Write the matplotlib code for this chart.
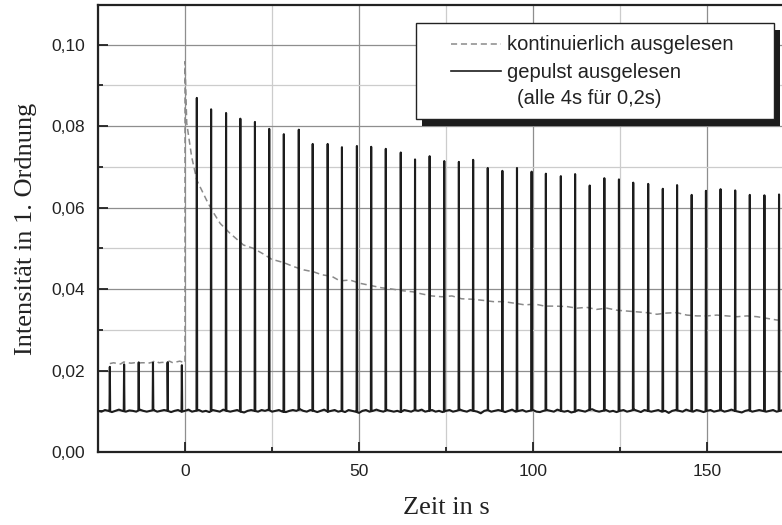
import numpy as np
import matplotlib
matplotlib.use("Agg")
import matplotlib.pyplot as plt
from matplotlib.patches import Rectangle
from matplotlib.lines import Line2D
from matplotlib.ticker import MultipleLocator, FuncFormatter

# --- continuous readout (dashed) -------------------------------------------
cont_t = [-21.6, -20.5, -19.5, -18.5, -17.6, -16.5, -15.5, -14.5, -13.4, -12.5,
          -11.5, -10.5, -9.5, -8.5, -7.5, -6.5, -5.5, -4.5, -3.5, -2.5,
          -1.5, -0.5, 0.0, 0.0, 0.5, 1.9, 3.4, 6.2, 7.7, 10.1,
          12.9, 16.8, 19.6, 22.5, 24.9, 28.3, 31.2, 34.1, 37.0, 39.3,
          42.2, 44.5, 47.4, 50.3, 53.7, 56.5, 59.4, 62.3, 65.6, 68.0,
          70.9, 73.8, 76.7, 79.5, 82.4, 85.8, 88.6, 91.5, 94.8, 97.7,
          100.6, 103.4, 106.3, 109.7, 112.6, 115.4, 118.3, 121.2, 124.1, 126.9,
          129.8, 132.7, 135.6, 138.4, 141.3, 144.2, 147.1, 150.0, 152.8, 155.7,
          158.6, 161.5, 164.4, 167.2, 170.0, 172.0]
cont_v = [0.0217, 0.0219, 0.0217, 0.0216, 0.0221, 0.0219, 0.0218, 0.0219, 0.0218, 0.0219,
          0.0219, 0.0218, 0.0220, 0.0224, 0.0219, 0.0220, 0.0219, 0.0223, 0.0219, 0.0221,
          0.0223, 0.0220, 0.0219, 0.0958, 0.0807, 0.0725, 0.0667, 0.0618, 0.0594, 0.0561,
          0.0537, 0.0508, 0.0500, 0.0486, 0.0473, 0.0465, 0.0455, 0.0447, 0.0442, 0.0435,
          0.0431, 0.0420, 0.0422, 0.0414, 0.0408, 0.0403, 0.0400, 0.0396, 0.0393, 0.0388,
          0.0383, 0.0381, 0.0383, 0.0376, 0.0375, 0.0372, 0.0369, 0.0369, 0.0365, 0.0361,
          0.0363, 0.0358, 0.0358, 0.0357, 0.0353, 0.0355, 0.0350, 0.0353, 0.0348, 0.0346,
          0.0344, 0.0342, 0.0338, 0.0341, 0.0342, 0.0336, 0.0334, 0.0334, 0.0336, 0.0334,
          0.0332, 0.0334, 0.0332, 0.0328, 0.0324, 0.0323]

# --- pulsed readout (solid): baseline sampled once per second ----------------
base_t0 = -25
base_v = [0.0101, 0.0099, 0.0103, 0.0101, 0.0098, 0.0101, 0.0104, 0.0101, 0.0099, 0.0102,
          0.0101, 0.0099, 0.0104, 0.0101, 0.0099, 0.0101, 0.0103, 0.0099, 0.0101, 0.0103,
          0.0101, 0.0098, 0.0101, 0.0103, 0.0099, 0.0101, 0.0104, 0.0099, 0.0101, 0.0103,
          0.0099, 0.0101, 0.0098, 0.0103, 0.0101, 0.0099, 0.0104, 0.0101, 0.0099, 0.0101,
          0.0103, 0.0099, 0.0097, 0.0101, 0.0103, 0.0101, 0.0099, 0.0103, 0.0101, 0.0104,
          0.0099, 0.0101, 0.0103, 0.0099, 0.0098, 0.0101, 0.0103, 0.0101, 0.0105, 0.0101,
          0.0099, 0.0103, 0.0101, 0.0098, 0.0101, 0.0104, 0.0099, 0.0101, 0.0103, 0.0099,
          0.0101, 0.0098, 0.0103, 0.0101, 0.0099, 0.0096, 0.0101, 0.0103, 0.0099, 0.0101,
          0.0104, 0.0101, 0.0099, 0.0103, 0.0101, 0.0099, 0.0101, 0.0098, 0.0103, 0.0101,
          0.0099, 0.0103, 0.0101, 0.0104, 0.0099, 0.0101, 0.0103, 0.0099, 0.0101, 0.0098,
          0.0101, 0.0103, 0.0099, 0.0101, 0.0104, 0.0101, 0.0099, 0.0103, 0.0101, 0.0099,
          0.0095, 0.0101, 0.0103, 0.0099, 0.0101, 0.0103, 0.0101, 0.0098, 0.0101, 0.0104,
          0.0099, 0.0101, 0.0103, 0.0099, 0.0101, 0.0103, 0.0099, 0.0098, 0.0101, 0.0103,
          0.0101, 0.0099, 0.0104, 0.0101, 0.0099, 0.0101, 0.0097, 0.0099, 0.0103, 0.0101,
          0.0099, 0.0103, 0.0105, 0.0101, 0.0099, 0.0101, 0.0103, 0.0099, 0.0101, 0.0098,
          0.0101, 0.0103, 0.0099, 0.0101, 0.0104, 0.0101, 0.0098, 0.0103, 0.0101, 0.0099,
          0.0101, 0.0103, 0.0099, 0.0101, 0.0096, 0.0101, 0.0103, 0.0101, 0.0099, 0.0104,
          0.0101, 0.0099, 0.0103, 0.0101, 0.0098, 0.0101, 0.0103, 0.0099, 0.0101, 0.0103,
          0.0099, 0.0101, 0.0104, 0.0101, 0.0099, 0.0097, 0.0101, 0.0103, 0.0099, 0.0101,
          0.0103, 0.0101, 0.0099, 0.0101, 0.0103, 0.0099, 0.0101, 0.0103]

pulse_t = [-21.6, -17.5, -13.3, -9.2, -5.0, -0.9,
           3.4, 7.5, 11.8, 15.9, 20.1, 24.2, 28.4, 32.7, 36.7, 41.0,
           45.1, 49.4, 53.5, 57.7, 62.0, 66.1, 70.3, 74.5, 78.7, 82.8,
           87.0, 91.2, 95.4, 99.6, 103.7, 108.0, 112.1, 116.3, 120.5, 124.7,
           128.8, 133.1, 137.3, 141.4, 145.6, 149.7, 153.9, 158.1, 162.3, 166.5,
           170.7]
pulse_v = [0.0209, 0.0215, 0.0220, 0.0219, 0.0220, 0.0213,
           0.0869, 0.0841, 0.0832, 0.0818, 0.0810, 0.0793, 0.0780, 0.0791, 0.0756, 0.0756,
           0.0748, 0.0751, 0.0749, 0.0744, 0.0735, 0.0718, 0.0726, 0.0714, 0.0712, 0.0717,
           0.0697, 0.0690, 0.0697, 0.0688, 0.0683, 0.0677, 0.0682, 0.0654, 0.0672, 0.0669,
           0.0661, 0.0658, 0.0646, 0.0655, 0.0631, 0.0641, 0.0645, 0.0642, 0.0631, 0.0630,
           0.0632]

y_ticks = [0.00, 0.02, 0.04, 0.06, 0.08, 0.10]
x_ticks = [0, 50, 100, 150]

# assemble the pulsed trace: baseline plus a narrow spike per readout pulse
bt = base_t0 + np.arange(len(base_v), dtype=float)
bv = np.array(base_v)
half_width = 0.1
st = list(bt)
sv = list(bv)
for tp, vp in zip(pulse_t, pulse_v):
    for dt in (-half_width, half_width):
        st.append(tp + dt)
        sv.append(np.interp(tp + dt, bt, bv))
    st.append(tp)
    sv.append(vp)
order = np.argsort(st, kind="stable")
st = np.array(st)[order]
sv = np.array(sv)[order]

# --- figure -----------------------------------------------------------------
W, H = 782, 525
fig = plt.figure(figsize=(W / 100, H / 100), dpi=100)
ax = fig.add_axes([98 / W, 73 / H, 696 / W, 447 / H])
ax.set_xlim(-25, 175)
ax.set_ylim(0, 0.1097)

ax.xaxis.set_minor_locator(MultipleLocator(25))
ax.yaxis.set_minor_locator(MultipleLocator(0.01))
ax.set_xticks(x_ticks)
ax.set_yticks(y_ticks)
ax.yaxis.set_major_formatter(FuncFormatter(lambda v, p: f"{v:.2f}".replace(".", ",")))
ax.xaxis.set_major_formatter(FuncFormatter(lambda v, p: f"{v:.0f}"))

ax.grid(which="major", color="#8e8e8e", lw=0.9, zorder=0)
ax.grid(which="minor", color="#cccccc", lw=0.9, zorder=0)
ax.set_axisbelow(True)

ax.tick_params(which="both", direction="in", top=False, right=False, width=1.3,
               color="#222222")
ax.tick_params(which="major", length=7, labelsize=12.5, pad=9)
ax.tick_params(which="minor", length=3.5)
for lab in ax.get_xticklabels() + ax.get_yticklabels():
    lab.set_fontfamily("Liberation Sans")
    lab.set_color("#222222")

for side in ("left", "bottom", "top"):
    ax.spines[side].set_linewidth(1.6)
    ax.spines[side].set_color("#222222")
ax.spines["right"].set_visible(False)

ax.plot(cont_t, cont_v, color="#8a8a8a", lw=1.1, dashes=(4, 2.5), zorder=3)
ax.plot(st, sv, color="#1c1c1c", lw=1.5, zorder=4)

ax.set_xlabel("Zeit in s", fontfamily="Liberation Serif", fontsize=19, color="#222222")
ax.set_ylabel("Intensität in 1. Ordnung", fontfamily="Liberation Serif", fontsize=19,
              color="#222222")
ax.xaxis.set_label_coords(0.5, -0.1)
ax.yaxis.set_label_coords(-0.087, 0.5)

# --- legend box with drop shadow ---------------------------------------------
def fx(px):
    return px / W

def fy(py):
    return 1 - py / H

bx0, bx1, by0, by1 = 416, 774, 23, 119
fig.patches.append(Rectangle((fx(bx0 + 6), fy(by1 + 7)), fx(bx1 - bx0), (by1 - by0) / H,
                             transform=fig.transFigure, facecolor="#1c1c1c",
                             edgecolor="none", zorder=5))
fig.patches.append(Rectangle((fx(bx0), fy(by1)), fx(bx1 - bx0), (by1 - by0) / H,
                             transform=fig.transFigure, facecolor="white",
                             edgecolor="#222222", lw=1.0, zorder=6))
fig.lines.append(Line2D([fx(451), fx(501)], [fy(44), fy(44)], transform=fig.transFigure,
                        color="#8a8a8a", lw=1.1, dashes=(4, 2.5), zorder=7))
fig.lines.append(Line2D([fx(451), fx(501)], [fy(71), fy(71)], transform=fig.transFigure,
                        color="#1c1c1c", lw=1.2, zorder=7))
legend_font = dict(fontfamily="Liberation Sans", fontsize=14.5, color="#222222",
                   va="center", ha="left", zorder=8)
fig.text(fx(507), fy(44), "kontinuierlich ausgelesen", **legend_font)
fig.text(fx(507), fy(72), "gepulst ausgelesen", **legend_font)
fig.text(fx(517), fy(98), "(alle 4s für 0,2s)", **legend_font)

fig.savefig("out.png", dpi=100)
